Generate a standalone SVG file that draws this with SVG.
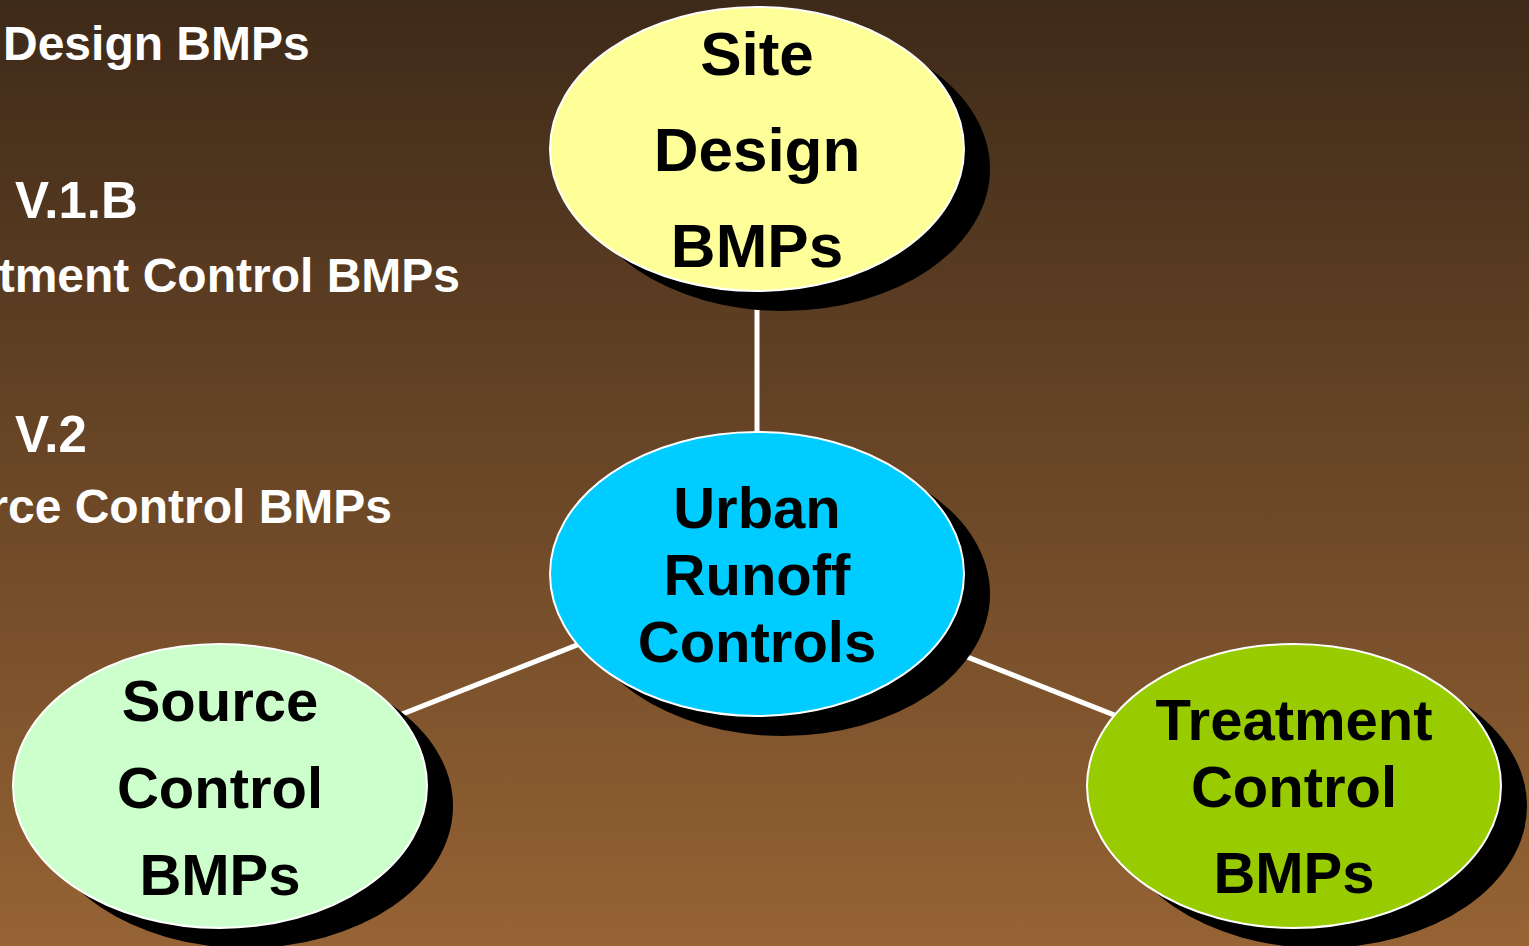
<svg xmlns="http://www.w3.org/2000/svg" width="1529" height="946" viewBox="0 0 1529 946">
<defs>
<linearGradient id="bg" x1="0" y1="0" x2="0" y2="1">
<stop offset="0" stop-color="#3e2a19"/>
<stop offset="1" stop-color="#966334"/>
</linearGradient>
<style>
.side{font-family:"Liberation Sans",Arial,sans-serif;font-weight:bold;font-size:48px;fill:#ffffff}
.ver{font-size:51px}
.lbl{font-family:"Liberation Sans",Arial,sans-serif;font-weight:bold;fill:#000000;text-anchor:middle}
.shadow{fill:#000000}
.node{stroke:#ffffff;stroke-width:2}
.conn{stroke:#ffffff;stroke-width:5;fill:none}
</style>
</defs>
<rect x="0" y="0" width="1529" height="946" fill="url(#bg)"/>
<g id="side-text">
<text class="side" x="3" y="60">Design BMPs</text>
<text class="side ver" x="15" y="218">V.1.B</text>
<text class="side" x="460" y="292" text-anchor="end">tment Control BMPs</text>
<text class="side ver" x="15" y="452">V.2</text>
<text class="side" x="392" y="523" text-anchor="end">rce Control BMPs</text>
</g>
<g id="connectors">
<line class="conn" x1="757" y1="149" x2="757" y2="574"/>
<line class="conn" x1="757" y1="574" x2="220" y2="786"/>
<line class="conn" x1="757" y1="574" x2="1294" y2="786"/>
</g>
<g id="site-design">
<ellipse class="shadow" cx="783" cy="169" rx="207" ry="142"/>
<ellipse class="node" cx="757" cy="149" rx="207" ry="142" fill="#ffff99"/>
<text class="lbl" font-size="62" x="757" y="75">Site</text>
<text class="lbl" font-size="62" x="757" y="171">Design</text>
<text class="lbl" font-size="62" x="757" y="267">BMPs</text>
</g>
<g id="urban-runoff">
<ellipse class="shadow" cx="783" cy="594" rx="207" ry="142"/>
<ellipse class="node" cx="757" cy="574" rx="207" ry="142" fill="#00ccff"/>
<text class="lbl" font-size="58" x="757" y="528">Urban</text>
<text class="lbl" font-size="58" x="757" y="595">Runoff</text>
<text class="lbl" font-size="58" x="757" y="662">Controls</text>
</g>
<g id="source-control">
<ellipse class="shadow" cx="246" cy="806" rx="207" ry="142"/>
<ellipse class="node" cx="220" cy="786" rx="207" ry="142" fill="#ccffcc"/>
<text class="lbl" font-size="58" x="220" y="721">Source</text>
<text class="lbl" font-size="58" x="220" y="808">Control</text>
<text class="lbl" font-size="58" x="220" y="895">BMPs</text>
</g>
<g id="treatment-control">
<ellipse class="shadow" cx="1320" cy="806" rx="207" ry="142"/>
<ellipse class="node" cx="1294" cy="786" rx="207" ry="142" fill="#99cc00"/>
<text class="lbl" font-size="58" x="1294" y="740">Treatment</text>
<text class="lbl" font-size="58" x="1294" y="807">Control</text>
<text class="lbl" font-size="58" x="1294" y="893">BMPs</text>
</g>
</svg>
